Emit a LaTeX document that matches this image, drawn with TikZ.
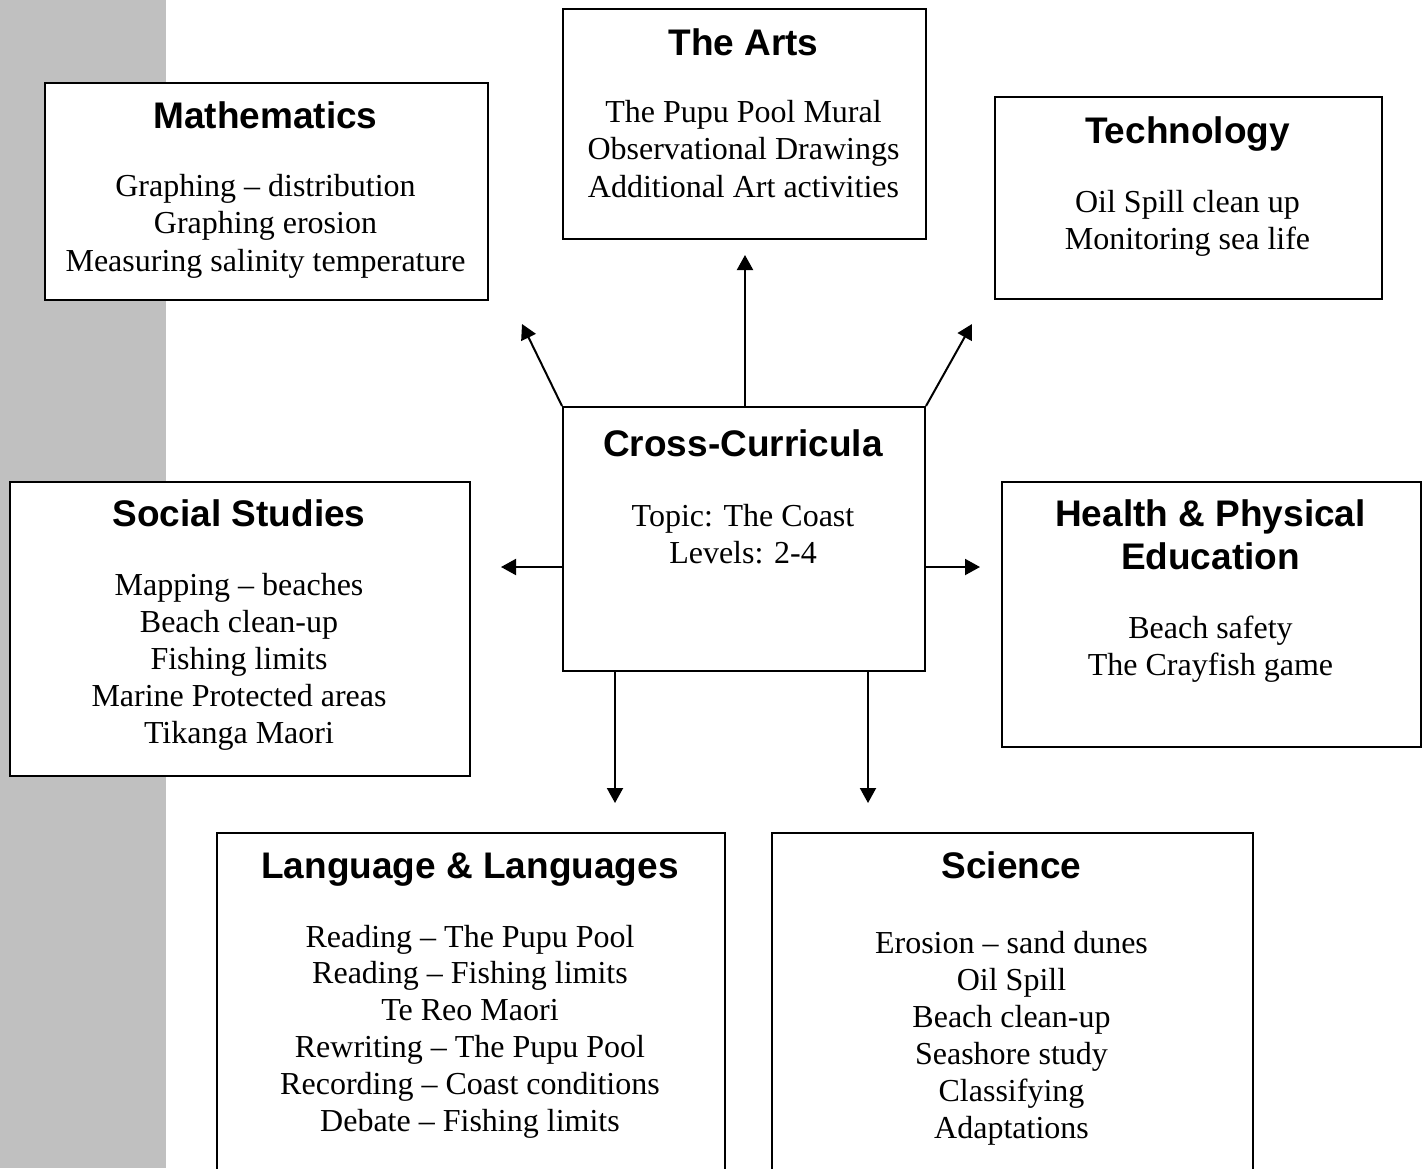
\documentclass[tikz,border=0pt]{standalone}
\usepackage{fontspec}
\setmainfont{Liberation Serif}
\newfontfamily\headfont{Liberation Sans}
\usetikzlibrary{arrows.meta}
\definecolor{strip}{RGB}{192,192,192}
\begin{document}
\begin{tikzpicture}[x=1pt,y=-1pt,
  box/.style={draw=black, line width=2pt, fill=white, anchor=north west, inner sep=0pt},
  head/.style={anchor=base, inner sep=0pt, font=\headfont\bfseries\fontsize{37}{42}\selectfont},
  body/.style={anchor=base, inner sep=0pt, font=\fontsize{32}{37}\selectfont},
  link/.style={line width=2pt, -{Triangle[length=15pt,width=16pt]}}]
\path[use as bounding box] (0,0) rectangle (1427,1168);
\clip (0,0) rectangle (1427,1168);
\fill[strip] (0,0) rectangle (166,1168);

% boxes
\node[box, minimum width=443pt, minimum height=217pt] (math) at (44,82) {};
\node[box, minimum width=363pt, minimum height=230pt] (arts) at (562,8) {};
\node[box, minimum width=387pt, minimum height=202pt] (tech) at (994,96) {};
\node[box, minimum width=362pt, minimum height=264pt] (cc) at (562,406) {};
\node[box, minimum width=460pt, minimum height=294pt] (social) at (9,481) {};
\node[box, minimum width=419pt, minimum height=265pt] (health) at (1001,481) {};
\node[box, minimum width=508pt, minimum height=360pt] (lang) at (216,832) {};
\node[box, minimum width=481pt, minimum height=360pt] (sci) at (771,832) {};

% titles
\node[head] (mathT) at (265.5,128) {Mathematics};
\node[head] (artsT) at (743.5,55) {The Arts};
\node[head] (techT) at (1187.5,143) {Technology};
\node[head] (ccT) at (743,456) {Cross-Curricula};
\node[head] (socialT) at (239,526) {Social Studies};
\node[head] (healthT1) at (1210.5,526) {Health \& Physical};
\node[head] (healthT2) at (1210.5,569) {Education};
\node[head] (langT) at (470,878) {Language \& Languages};
\node[head] (sciT) at (1011.5,878) {Science};

% body lines
\foreach \t [count=\i] in {Graphing – distribution, Graphing erosion, Measuring salinity temperature}
  \node[body] (math-\i) at (265.5,{196+37.5*(\i-1)}) {\t};
\foreach \t [count=\i] in {The Pupu Pool Mural, Observational Drawings, Additional Art activities}
  \node[body] (arts-\i) at (743.5,{122+37.5*(\i-1)}) {\t};
\foreach \t [count=\i] in {Oil Spill clean up, Monitoring sea life}
  \node[body] (tech-\i) at (1187.5,{212+37*(\i-1)}) {\t};
\foreach \t [count=\i] in {Topic: The Coast, Levels: 2-4}
  \node[body] (cc-\i) at (743,{526+37*(\i-1)}) {\t};
\foreach \t [count=\i] in {Mapping – beaches, Beach clean-up, Fishing limits, Marine Protected areas, Tikanga Maori}
  \node[body] (social-\i) at (239,{595+37*(\i-1)}) {\t};
\foreach \t [count=\i] in {Beach safety, The Crayfish game}
  \node[body] (health-\i) at (1210.5,{638+37*(\i-1)}) {\t};
\foreach \t [count=\i] in {Reading – The Pupu Pool, Reading – Fishing limits, Te Reo Maori, Rewriting – The Pupu Pool, Recording – Coast conditions, Debate – Fishing limits}
  \node[body] (lang-\i) at (470,{947+36.8*(\i-1)}) {\t};
\foreach \t [count=\i] in {Erosion – sand dunes, Oil Spill, Beach clean-up, Seashore study, Classifying, Adaptations}
  \node[body] (sci-\i) at (1011.5,{953+37*(\i-1)}) {\t};

% arrow tips
\coordinate (tUp) at (745,255);
\coordinate (tUL) at (522,324);
\coordinate (tUR) at (972,324);
\coordinate (tL) at (501,567);
\coordinate (tR) at (980,567);
\coordinate (tD1) at (615,803);
\coordinate (tD2) at (868,803);

\draw[link] (cc.north -| tUp) -- (tUp);
\draw[link] (cc.north west) -- (tUL);
\draw[link] (cc.north east) -- (tUR);
\draw[link] (cc.west |- tL) -- (tL);
\draw[link] (cc.east |- tR) -- (tR);
\draw[link] (cc.south -| tD1) -- (tD1);
\draw[link] (cc.south -| tD2) -- (tD2);
\end{tikzpicture}
\end{document}
